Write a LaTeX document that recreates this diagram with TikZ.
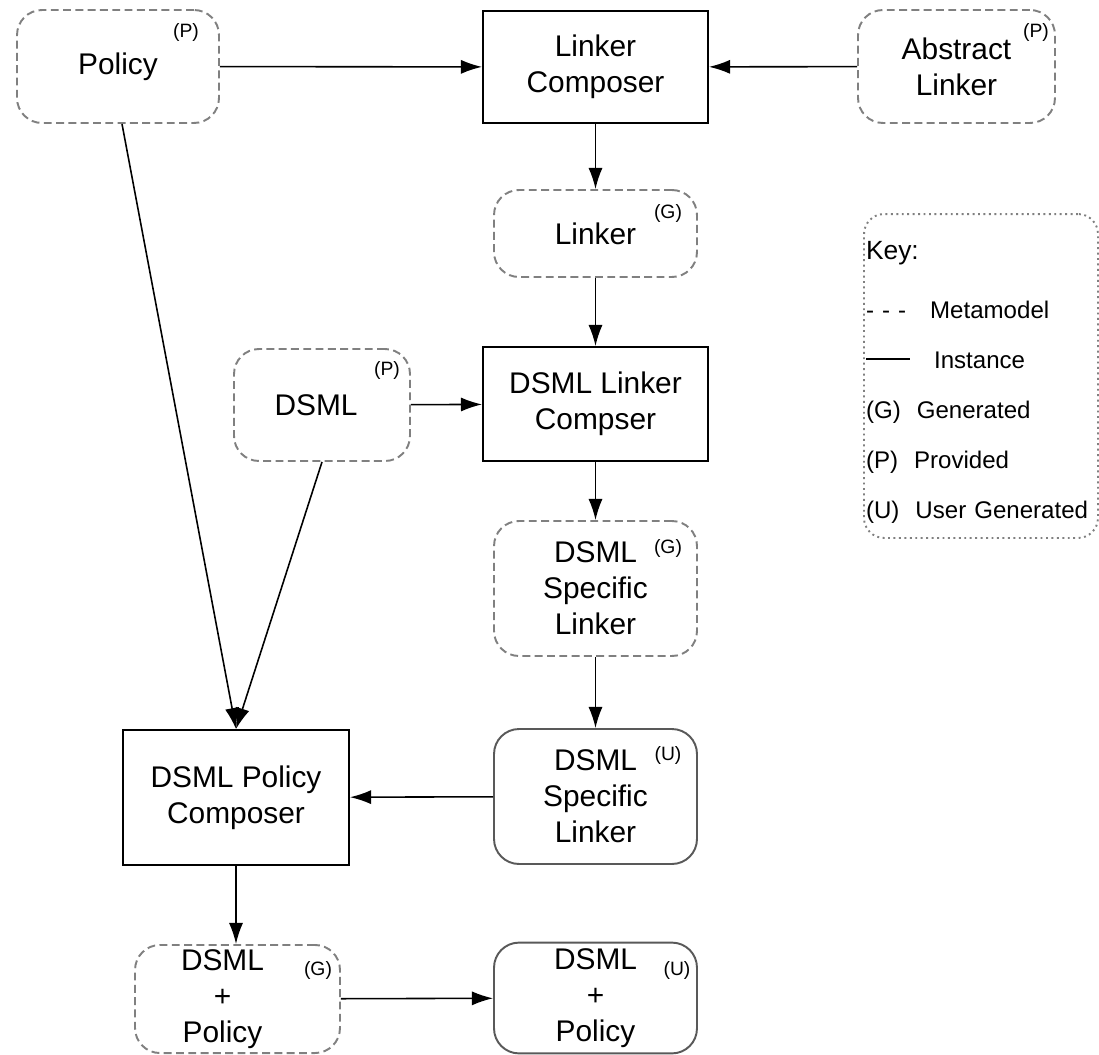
\documentclass[tikz,border=0pt]{standalone}
\usepackage{fontspec}
\setmainfont{Liberation Sans}
\usetikzlibrary{arrows, arrows.meta}

\newcommand{\boxfont}{\fontsize{17}{20.5}\selectfont}
\newcommand{\tagfont}{\fontsize{11}{11}\selectfont}
\newcommand{\keyfont}{\fontsize{13.7}{28.45}\selectfont}

\tikzset{
	comp/.style={draw, line width=1.1pt, align=center, font=\boxfont},
	meta/.style={draw=gray, dash pattern=on 4.5pt off 2.5pt, line width=1.1pt, rounded corners=0.5cm, align=center, font=\boxfont},
	inst/.style={draw=black!65, line width=1.1pt, rounded corners=0.5cm, align=center, font=\boxfont},
	tag/.style={font=\tagfont, inner sep=0pt},
	arr/.style={->, line width=0.9pt}
}

\begin{document}
\begin{tikzpicture}[>={Latex[length=12pt,width=8pt]}, x=0.02cm, y=-0.02cm]
		\useasboundingbox (0,0) rectangle (1099,1055);
		%top row
		\node[meta, minimum width=4.04cm, minimum height=2.26cm] (pol) at (118,66.5) {Policy};
		\node[comp, minimum width=4.5cm, minimum height=2.24cm] (lc) at (595.5,67) {Linker\\Composer};
		\node[meta, minimum width=3.94cm, minimum height=2.26cm] (abs) at (956.5,66.5) {Abstract\\Linker};
		\node[tag] (polTag) at (186,32) {(P)};
		\node[tag] (absTag) at (1036,32) {(P)};
		%middle column
		\node[meta, minimum width=4.06cm, minimum height=1.74cm] (lnk) at (595.5,233.5) {Linker};
		\node[tag] (lnkTag) at (668,213) {(G)};
		\node[meta, minimum width=3.52cm, minimum height=2.24cm] (dsml) at (322,405) {\hspace*{-0.24cm}DSML};
		\node[tag] (dsmlTag) at (387,370) {(P)};
		\node[comp, minimum width=4.5cm, minimum height=2.28cm] (dlc) at (595.5,404) {DSML Linker\\Compser};
		\node[meta, minimum width=4.06cm, minimum height=2.7cm] (dslG) at (595.5,588.5) {DSML\\Specific\\Linker};
		\node[tag] (dslGTag) at (668,548) {(G)};
		\node[inst, minimum width=4.06cm, minimum height=2.7cm] (dslU) at (595.5,796.5) {DSML\\Specific\\Linker};
		\node[tag] (dslUTag) at (668,755) {(U)};
		%bottom
		\node[comp, minimum width=4.52cm, minimum height=2.7cm] (dpc) at (236,797.5) {DSML Policy\\Composer};
		\node[meta, minimum width=4.1cm, minimum height=2.16cm, inner ysep=0pt] (dpG) at (237.5,999)
			{\begin{tabular}{@{}c@{\hspace{0.6cm}}}DSML\\+\\Policy\end{tabular}};
		\node[tag] (dpGTag) at (318,970) {(G)};
		\node[inst, minimum width=4.06cm, minimum height=2.2cm] (dpU) at (595.5,998) {DSML\\+\\Policy};
		\node[tag] (dpUTag) at (677,970) {(U)};
		%key
		\node[draw=gray, dotted, line width=1.1pt, rounded corners=0.4cm, minimum width=4.68cm, minimum height=6.48cm] (key) at (981,376) {};
		\node[text width=4.6cm, inner xsep=1pt, align=left, font=\keyfont] (keyText) at (981,382.5)
			{{\fontsize{15}{15}\selectfont Key:}\\[5pt]
			- - -\ \ \ Metamodel\\
			\rule[0.35em]{0.88cm}{1.2pt}\ \ \ Instance\\
			(G)\ \ Generated\\
			(P)\ \ Provided\\
			(U)\ \ User Generated};
		%arrows
		\draw[arr] (pol) -- (lc);
		\draw[arr] (abs) -- (lc);
		\draw[arr] (lc) -- (lnk);
		\draw[arr] (lnk) -- (dlc);
		\draw[arr] (dsml) -- (dlc);
		\draw[arr] (dlc) -- (dslG);
		\draw[arr] (dslG) -- (dslU);
		\draw[arr] (dslU) -- (dpc);
		\draw[arr] ([xshift=0.08cm]pol.south) -- (dpc.north);
		\draw[arr] (dsml.south) -- (dpc.north);
		\draw[arr] (dpc.south) -- (dpc.south |- dpG.north);
		\draw[arr] (dpG) -- (dpU);
\end{tikzpicture}
\end{document}
